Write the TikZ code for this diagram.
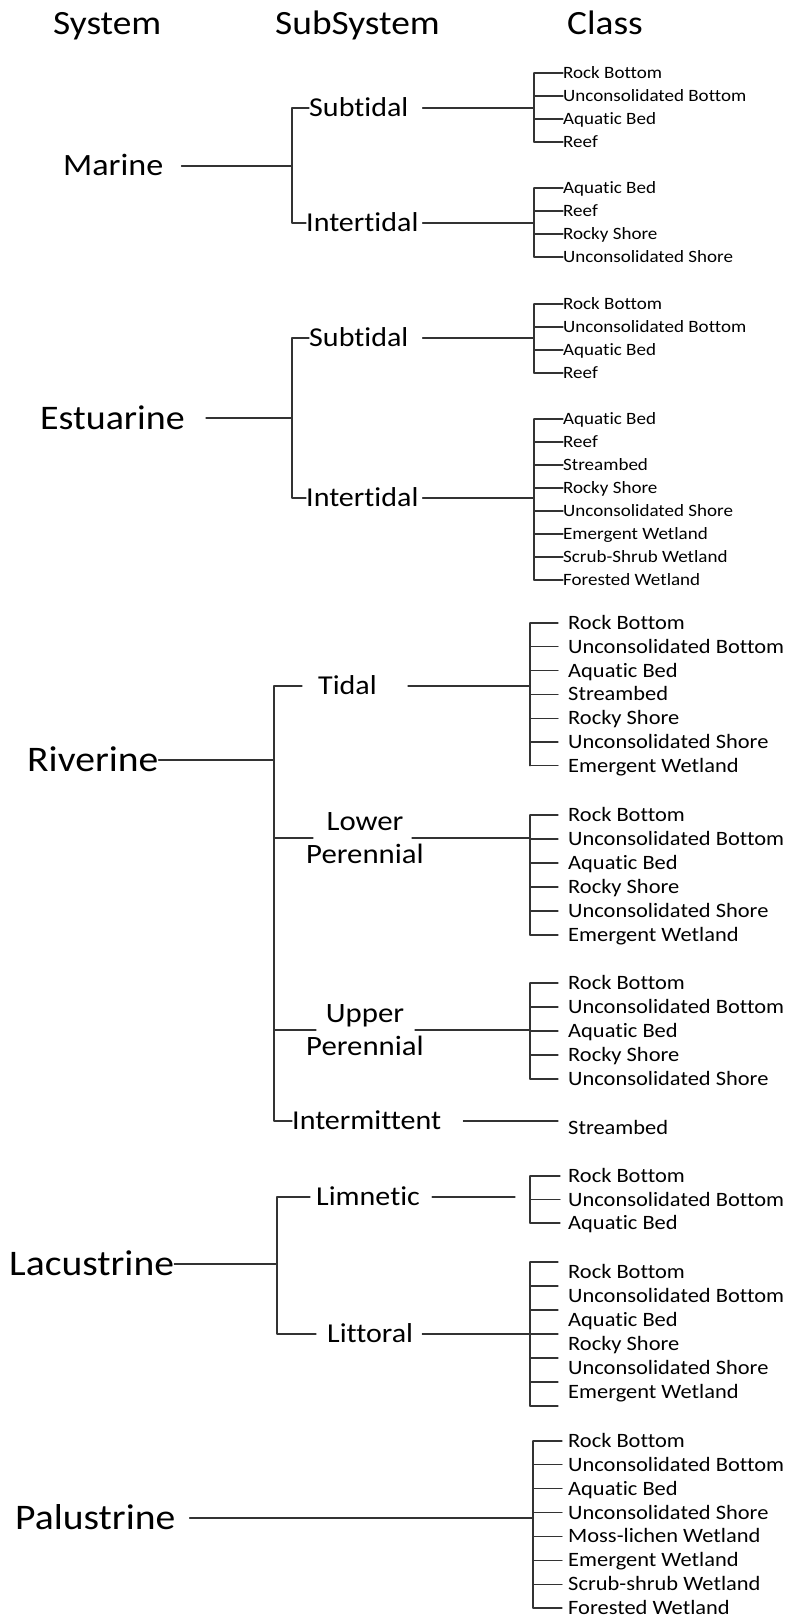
\documentclass[tikz,border=0pt]{standalone}
\usepackage{fontspec}
\setmainfont{Carlito}[Ligatures=NoCommon,FakeStretch=1.1]
\usetikzlibrary{calc,positioning}

\begin{document}
\begin{tikzpicture}[x=1pt,y=-1pt,line cap=round,line join=round,
  ln/.style={line width=1.1pt,color=black!80},
  head/.style={anchor=base west,inner sep=0pt,font=\fontsize{34}{36}\selectfont},
  sysname/.style={anchor=west,inner sep=0pt,text height={0.64*#1pt},text depth=0pt,font=\fontsize{#1}{#1}\selectfont},
  sysname/.default=36,
  subname/.style={anchor=west,inner sep=0pt,text height=17.5pt,text depth=0pt,font=\fontsize{27.3}{29}\selectfont},
  subtwo/.style={align=center,inner sep=0pt,font=\fontsize{28}{33}\selectfont},
  clsA/.style={anchor=west,inner sep=0pt,text height=11.1pt,text depth=0pt,font=\fontsize{17.3}{19}\selectfont},
  clsB/.style={anchor=west,inner sep=0pt,text height=13.1pt,text depth=0pt,font=\fontsize{20.4}{22}\selectfont}]
\useasboundingbox[fill=white] (0,0) rectangle (792,1619);

% headings
\node[head] (hsys) at (53,35) {System};
\node[head] (hsub) at (275,35) {SubSystem};
\node[head] (hcls) at (567,35) {Class};

% Marine
\node[sysname=31] (mar) at (63,166) {Marine};
\node[subname] (mars) at (309,108) {Subtidal};
\node[subname] (mari) at (306,223) {Intertidal};
\coordinate (marb) at (292,166);
\draw[ln] ([xshift=18pt]mar.east) -- (marb);
\draw[ln] (mars.west) -| (marb) |- (mari.west);
\coordinate (msb) at (534,108);
\coordinate (mib) at (534,223);
\draw[ln] ([xshift=14pt]mars.east) -- (msb);
\draw[ln] ([xshift=4pt]mari.east) -- (mib);
\foreach \t [count=\i] in {Rock Bottom,Unconsolidated Bottom,Aquatic Bed,Reef}{
  \node[clsA] (ms\i) at (563,{73+23*(\i-1)}) {\t};
  \draw[ln] (ms\i.west -| msb) -- (ms\i.west);
}
\draw[ln] (ms1.west -| msb) -- (ms4.west -| msb);
\foreach \t [count=\i] in {Aquatic Bed,Reef,Rocky Shore,Unconsolidated Shore}{
  \node[clsA] (mi\i) at (563,{188+23*(\i-1)}) {\t};
  \draw[ln] (mi\i.west -| mib) -- (mi\i.west);
}
\draw[ln] (mi1.west -| mib) -- (mi4.west -| mib);

% Estuarine
\node[sysname=34.5] (est) at (40,418) {Estuarine};
\node[subname] (ests) at (309,338) {Subtidal};
\node[subname] (esti) at (306,498) {Intertidal};
\coordinate (estb) at (292,418);
\draw[ln] ([xshift=21pt]est.east) -- (estb);
\draw[ln] (ests.west) -| (estb) |- (esti.west);
\coordinate (esb) at (534,338);
\coordinate (eib) at (534,498);
\draw[ln] ([xshift=14pt]ests.east) -- (esb);
\draw[ln] ([xshift=4pt]esti.east) -- (eib);
\foreach \t [count=\i] in {Rock Bottom,Unconsolidated Bottom,Aquatic Bed,Reef}{
  \node[clsA] (es\i) at (563,{304+23*(\i-1)}) {\t};
  \draw[ln] (es\i.west -| esb) -- (es\i.west);
}
\draw[ln] (es1.west -| esb) -- (es4.west -| esb);
\foreach \t [count=\i] in {Aquatic Bed,Reef,Streambed,Rocky Shore,Unconsolidated Shore,Emergent Wetland,Scrub-Shrub Wetland,Forested Wetland}{
  \node[clsA] (ei\i) at (563,{419+23*(\i-1)}) {\t};
  \draw[ln] (ei\i.west -| eib) -- (ei\i.west);
}
\draw[ln] (ei1.west -| eib) -- (ei8.west -| eib);

% Riverine
\node[sysname] (riv) at (27,760) {Riverine};
\node[subname] (rtid) at (318,686) {Tidal};
\node[subtwo] (rlp) at (365,838) {Lower\\Perennial};
\node[subtwo] (rup) at (365,1030) {Upper\\Perennial};
\node[subname] (rint) at (292,1121) {Intermittent};
\coordinate (rivb) at (274,760);
\draw[ln] (riv.east) -- (rivb);
\draw[ln] ([xshift=-16pt]rtid.west) -| (rivb) |- (rint.west);
\draw[ln] (rivb |- rlp.west) -- ([xshift=7pt]rlp.west);
\draw[ln] (rivb |- rup.west) -- ([xshift=10pt]rup.west);
\coordinate (rtb) at (530,686);
\coordinate (rlb) at (530,838);
\coordinate (rub) at (530,1030);
\draw[ln] ([xshift=31pt]rtid.east) -- (rtb);
\draw[ln] ([xshift=-12pt]rlp.east) -- (rlb);
\draw[ln] ([xshift=-9pt]rup.east) -- (rub);
\foreach \t [count=\i] in {Rock Bottom,Unconsolidated Bottom,Aquatic Bed,Streambed,Rocky Shore,Unconsolidated Shore,Emergent Wetland}{
  \node[clsB] (rt\i) at (568,{623+23.8*(\i-1)}) {\t};
  \draw[ln] (rt\i.west -| rtb) -- ([xshift=-10pt]rt\i.west);
}
\draw[ln] (rt1.west -| rtb) -- (rt7.west -| rtb);
\foreach \t [count=\i] in {Rock Bottom,Unconsolidated Bottom,Aquatic Bed,Rocky Shore,Unconsolidated Shore,Emergent Wetland}{
  \node[clsB] (rl\i) at (568,{815+24*(\i-1)}) {\t};
  \draw[ln] (rl\i.west -| rlb) -- ([xshift=-10pt]rl\i.west);
}
\draw[ln] (rl1.west -| rlb) -- (rl6.west -| rlb);
\foreach \t [count=\i] in {Rock Bottom,Unconsolidated Bottom,Aquatic Bed,Rocky Shore,Unconsolidated Shore}{
  \node[clsB] (ru\i) at (568,{983+24*(\i-1)}) {\t};
  \draw[ln] (ru\i.west -| rub) -- ([xshift=-10pt]ru\i.west);
}
\draw[ln] (ru1.west -| rub) -- (ru5.west -| rub);
\node[clsB] (rst) at (568,1128) {Streambed};
\draw[ln] ([xshift=22pt]rint.east) -- ($(rint.east -| rst.west)+(-10,0)$);

% Lacustrine
\node[sysname] (lac) at (9,1264) {Lacustrine};
\node[subname] (llim) at (316,1197) {Limnetic};
\node[subname] (llit) at (327,1334) {Littoral};
\coordinate (lacb) at (277,1264);
\draw[ln] (lac.east) -- (lacb);
\draw[ln] ([xshift=-6pt]llim.west) -| (lacb) |- ([xshift=-11pt]llit.west);
\coordinate (llb) at (530,1197);
\coordinate (ltb) at (530,1334);
\draw[ln] ([xshift=12pt]llim.east) -- ($(llb)+(-15,0)$);
\draw[ln] ([xshift=9pt]llit.east) -- (ltb);
\foreach \t [count=\i] in {Rock Bottom,Unconsolidated Bottom,Aquatic Bed}{
  \node[clsB] (lm\i) at (568,{1176+23.5*(\i-1)}) {\t};
  \draw[ln] (lm\i.west -| llb) -- ([xshift=-8pt]lm\i.west);
}
\draw[ln] (lm1.west -| llb) -- (lm3.west -| llb);
\foreach \t [count=\i] in {Rock Bottom,Unconsolidated Bottom,Aquatic Bed,Rocky Shore,Unconsolidated Shore,Emergent Wetland}{
  \node[clsB] (lt\i) at (568,{1272+24*(\i-1)}) {\t};
  \draw[ln] ($(lt\i.west -| ltb)+(0,-10)$) -- ++(28,0);
}
\draw[ln] ($(lt6.west -| ltb)+(0,14)$) -- ++(28,0);
\draw[ln] ($(lt1.west -| ltb)+(0,-10)$) -- ($(lt6.west -| ltb)+(0,14)$);

% Palustrine
\node[sysname] (pal) at (15,1518) {Palustrine};
\coordinate (palb) at (533,1518);
\draw[ln] ([xshift=14pt]pal.east) -- (palb);
\foreach \t [count=\i] in {Rock Bottom,Unconsolidated Bottom,Aquatic Bed,Unconsolidated Shore,Moss-lichen Wetland,Emergent Wetland,Scrub-shrub Wetland,Forested Wetland}{
  \node[clsB] (pa\i) at (568,{1441+23.85*(\i-1)}) {\t};
  \draw[ln] (pa\i.west -| palb) -- ([xshift=-6pt]pa\i.west);
}
\draw[ln] (pa1.west -| palb) -- (pa8.west -| palb);
\end{tikzpicture}
\end{document}
